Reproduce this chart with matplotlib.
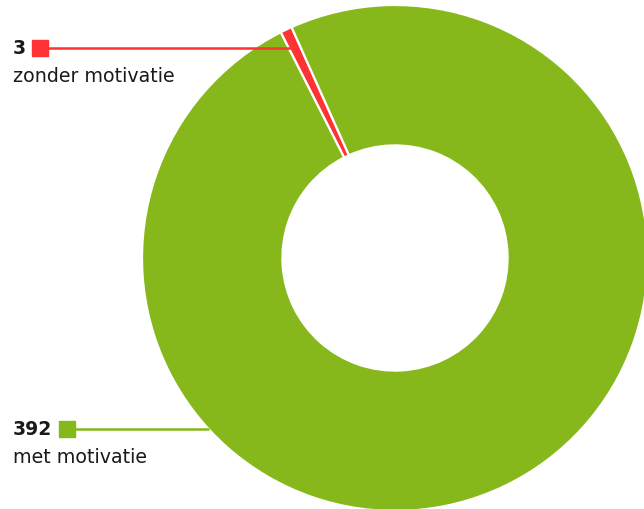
import matplotlib
matplotlib.use("Agg")
from matplotlib import pyplot as plt
import numpy as np

labels = ['zonder motivatie', 'met motivatie']
values = [3, 392]
colors = ['#ff3333', '#86b81b']

W, H = 644, 510
cx, cy = 395, 251          # donut centre in pixels (y up)
r_out = 253
hole = 0.445
mid_red = 115.5            # angle (deg) of the small slice

span = 360 * values[0] / sum(values)

fig = plt.figure(figsize=(W / 100, H / 100), dpi=100)
ax = fig.add_axes([0, 0, 1, 1])
ax.pie(values, colors=colors, startangle=mid_red + span / 2, counterclock=False,
       radius=r_out, center=(cx, cy),
       wedgeprops=dict(width=r_out * (1 - hole), edgecolor='white', linewidth=1.6))
ax.set_xlim(0, W)
ax.set_ylim(0, H)
ax.set_aspect('equal')
ax.axis('off')

txt = '#1a1a1a'
font = 'DejaVu Sans'

# label for the small slice, leader line to the slice
y1 = H - 49
a = np.radians(mid_red)
x1_end = cx + (y1 - cy) / np.tan(a)
ax.plot([40, x1_end], [y1, y1], color=colors[0], lw=1.8, solid_capstyle='butt', zorder=3)
ax.plot([40], [y1], marker='s', ms=12, color=colors[0], zorder=4)
ax.text(13, y1, str(values[0]), fontsize=13.5, fontweight='bold', color=txt,
        va='center', ha='left', family=font)
ax.text(13, y1 - 27, labels[0], fontsize=13.7, color=txt, va='center', ha='left', family=font)

# label for the big slice, leader line to the outer edge
y2 = H - 430
x2_end = cx - np.sqrt(r_out ** 2 - (y2 - cy) ** 2)
ax.plot([67, x2_end], [y2, y2], color=colors[1], lw=1.8, solid_capstyle='butt', zorder=3)
ax.plot([67], [y2], marker='s', ms=12, color=colors[1], zorder=4)
ax.text(13, y2, str(values[1]), fontsize=13.5, fontweight='bold', color=txt,
        va='center', ha='left', family=font)
ax.text(13, y2 - 28, labels[1], fontsize=13.7, color=txt, va='center', ha='left', family=font)

fig.savefig('out.png', dpi=100)
